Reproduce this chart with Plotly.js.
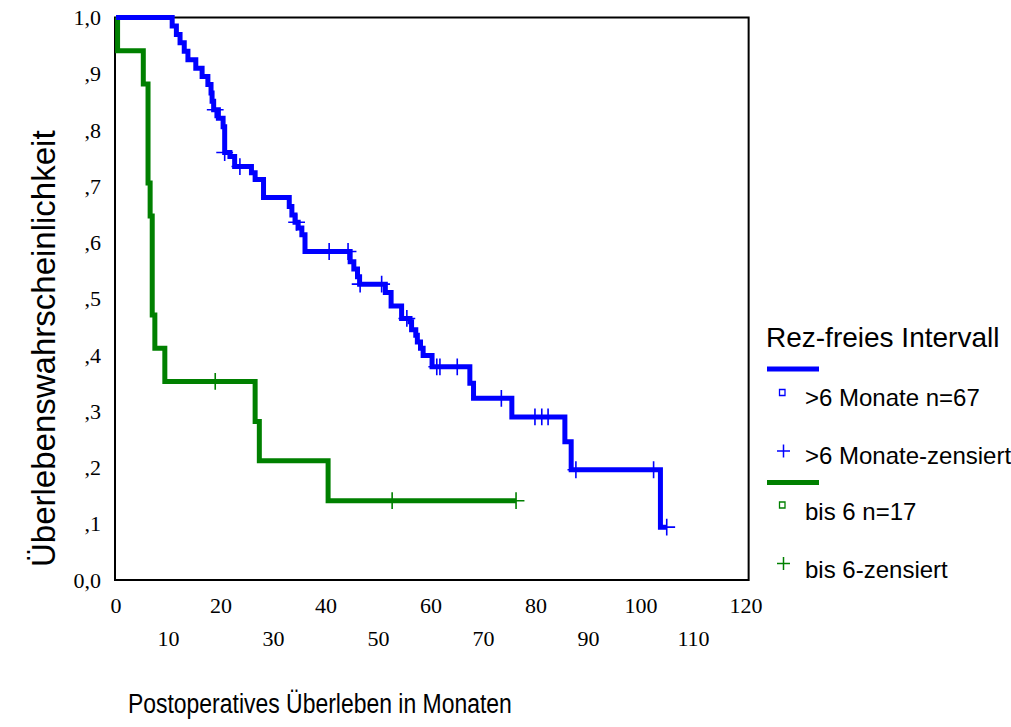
<!DOCTYPE html>
<html>
<head>
<meta charset="utf-8">
<script src="https://cdn.plot.ly/plotly-3.0.1.min.js"></script>
<style>
  html, body { margin: 0; padding: 0; background: #ffffff; }
  #chart { width: 1011px; height: 727px; }
</style>
</head>
<body>
<div id="chart"></div>
<script>
// Kaplan-Meier estimate: event times (months) and survival after each event
const blueEventTimes = [10.7, 11.5, 12.2, 13.0, 13.7, 15.2, 16.4, 17.5, 18.1, 18.3,
  18.6, 19.5, 20.4, 20.7, 21.7, 22.6, 25.8, 26.5, 28.1, 33.0,
  33.5, 34.1, 34.7, 35.4, 36.0, 44.6, 45.3, 46.0, 46.4, 51.3,
  52.4, 54.4, 56.0, 56.3, 57.1, 57.4, 58.0, 58.5, 60.2, 67.4,
  68.1, 75.4, 85.5, 86.7, 103.7];
const blueEventSurv = [0.985, 0.970, 0.955, 0.940, 0.925, 0.910, 0.895, 0.881, 0.866, 0.851,
  0.836, 0.821, 0.806, 0.760, 0.753, 0.735, 0.724, 0.712, 0.680, 0.664,
  0.649, 0.636, 0.626, 0.614, 0.584, 0.566, 0.553, 0.539, 0.526, 0.511,
  0.487, 0.465, 0.459, 0.445, 0.435, 0.423, 0.412, 0.399, 0.379, 0.350,
  0.323, 0.290, 0.246, 0.196, 0.094];
const blueCensorTimes = [18.9, 20.7, 23.6, 34.4, 40.6, 44.2, 46.5, 50.6, 55.4, 61.1,
  61.7, 65.0, 73.4, 79.8, 81.1, 82.3, 87.6, 102.4, 104.9];
const blueCensorSurv = [0.836, 0.760, 0.735, 0.636, 0.584, 0.584, 0.526, 0.526, 0.465, 0.379,
  0.379, 0.379, 0.323, 0.290, 0.290, 0.290, 0.196, 0.196, 0.094];

const greenEventTimes = [0.3, 5.2, 6.1, 6.5, 6.9, 7.4, 9.3, 26.5, 27.3, 40.4];
const greenEventSurv = [0.941, 0.882, 0.706, 0.647, 0.471, 0.412, 0.353, 0.282, 0.212, 0.141];
const greenCensorTimes = [18.9, 52.6, 76.2];
const greenCensorSurv = [0.353, 0.141, 0.141];

// Axis ticks and labels
const yTickVals = [0, 0.1, 0.2, 0.3, 0.4, 0.5, 0.6, 0.7, 0.8, 0.9, 1.0];
const yTickText = ['0,0', ',1', ',2', ',3', ',4', ',5', ',6', ',7', ',8', ',9', '1,0'];
const xTicksUpper = [0, 20, 40, 60, 80, 100, 120];
const xTicksLower = [10, 30, 50, 70, 90, 110];

// Text
const legendTitle = 'Rez-freies Intervall';
const legendLabels = ['>6 Monate n=67', '>6 Monate-zensiert', 'bis 6 n=17', 'bis 6-zensiert'];
const xTitle = 'Postoperatives Überleben in Monaten';
const yTitle = 'Überlebenswahrscheinlichkeit';

// ---- geometry of the plotting region (pixels) ----
const plotLeft = 108, plotRight = 755, plotTop = 8, plotBottom = 590;
const xZeroPx = 116, pxPerMonth = 5.25;
const yOnePx = 17.5, yZeroPx = 580;
const pxPerUnit = yZeroPx - yOnePx;
const xRange = [(plotLeft - xZeroPx) / pxPerMonth, (plotRight - xZeroPx) / pxPerMonth];
const yRange = [(yZeroPx - plotBottom) / pxPerUnit, (yZeroPx - plotTop) / pxPerUnit];
const px = p => (p - plotLeft) / (plotRight - plotLeft);
const py = p => (plotBottom - p) / (plotBottom - plotTop);
const xTitleWidth = 384;   // condensed width of the x-axis caption

const BLUE = 'rgb(0,0,255)';
const GREEN = 'rgb(0,128,0)';
const SANS = 'Liberation Sans, Arial, sans-serif';
const SERIF = 'Liberation Serif, Times New Roman, serif';

function stepCurve(times, surv, endTime) {
  const x = [0], y = [1];
  times.forEach((t, i) => { x.push(t); y.push(surv[i]); });
  x.push(endTime); y.push(surv[surv.length - 1]);
  return { x, y };
}

const greenStep = stepCurve(greenEventTimes, greenEventSurv, greenCensorTimes[greenCensorTimes.length - 1]);
const blueStep = stepCurve(blueEventTimes, blueEventSurv, blueCensorTimes[blueCensorTimes.length - 1]);

const censorMarker = color => ({ symbol: 'cross-thin-open', size: 12, color: color, line: { color: color, width: 1.6 } });

const traces = [
  { x: greenStep.x, y: greenStep.y, type: 'scatter', mode: 'lines', line: { shape: 'hv', color: GREEN, width: 5 }, hoverinfo: 'skip', showlegend: false },
  { x: greenCensorTimes, y: greenCensorSurv, type: 'scatter', mode: 'markers', marker: censorMarker(GREEN), hoverinfo: 'skip', showlegend: false },
  { x: blueStep.x, y: blueStep.y, type: 'scatter', mode: 'lines', line: { shape: 'hv', color: BLUE, width: 5 }, hoverinfo: 'skip', showlegend: false },
  { x: blueCensorTimes, y: blueCensorSurv, type: 'scatter', mode: 'markers', marker: censorMarker(BLUE), hoverinfo: 'skip', showlegend: false },
  // second row of x tick labels lives on an overlaying axis
  { x: [null], y: [null], xaxis: 'x2', type: 'scatter', mode: 'markers', hoverinfo: 'skip', showlegend: false }
];

// ---- legend drawn in paper coordinates ----
const legendRows = [
  { color: BLUE, lineY: 369, squareY: 392.5, crossY: 451, labelY: [397.5, 455.5] },
  { color: GREEN, lineY: 482.5, squareY: 505, crossY: 563.5, labelY: [511, 569] }
];
const shapes = [
  { type: 'rect', xref: 'x', yref: 'y', x0: -0.19, x1: 120.5, y0: 0, y1: 1.0,
    line: { color: '#000000', width: 2 }, fillcolor: 'rgba(0,0,0,0)', layer: 'below' }
];
const annotations = [];
legendRows.forEach((row, i) => {
  shapes.push({ type: 'line', xref: 'paper', yref: 'paper', x0: px(767), x1: px(819), y0: py(row.lineY), y1: py(row.lineY), line: { color: row.color, width: 5 } });
  shapes.push({ type: 'rect', xref: 'paper', yref: 'paper', x0: px(779.5), x1: px(785), y0: py(row.squareY - 3), y1: py(row.squareY + 3), line: { color: row.color, width: 1.3 }, fillcolor: 'rgba(0,0,0,0)' });
  shapes.push({ type: 'line', xref: 'paper', yref: 'paper', x0: px(777), x1: px(790), y0: py(row.crossY), y1: py(row.crossY), line: { color: row.color, width: 1.5 } });
  shapes.push({ type: 'line', xref: 'paper', yref: 'paper', x0: px(783.5), x1: px(783.5), y0: py(row.crossY - 6.5), y1: py(row.crossY + 6.5), line: { color: row.color, width: 1.5 } });
  row.labelY.forEach((ly, j) => {
    annotations.push({ xref: 'paper', yref: 'paper', x: px(803), y: py(ly), xanchor: 'left', yanchor: 'middle',
      text: legendLabels[i * 2 + j], showarrow: false, font: { family: SANS, size: 24, color: '#000000' } });
  });
});
annotations.push({ xref: 'paper', yref: 'paper', x: px(764), y: py(337), xanchor: 'left', yanchor: 'middle',
  text: legendTitle, showarrow: false, font: { family: SANS, size: 28, color: '#000000' } });
annotations.push({ xref: 'paper', yref: 'paper', x: px(320), y: py(704), xanchor: 'center', yanchor: 'middle',
  text: xTitle, showarrow: false, font: { family: SANS, size: 27, color: '#000000' } });
annotations.push({ xref: 'paper', yref: 'paper', x: px(44), y: py(349), xanchor: 'center', yanchor: 'middle',
  text: yTitle, textangle: -90, showarrow: false, font: { family: SANS, size: 33, color: '#000000' } });

const axisCommon = { showgrid: false, zeroline: false, showline: false, ticks: '', fixedrange: true };

const layout = {
  width: 1011, height: 727,
  margin: { l: plotLeft, r: 1011 - plotRight, t: plotTop, b: 727 - plotBottom, pad: 0 },
  paper_bgcolor: '#ffffff', plot_bgcolor: '#ffffff',
  showlegend: false,
  xaxis: Object.assign({}, axisCommon, { range: xRange, tickmode: 'array', tickvals: xTicksUpper,
    ticktext: xTicksUpper.map(String), ticklabelstandoff: 0, tickfont: { family: SERIF, size: 22, color: '#000000' } }),
  xaxis2: Object.assign({}, axisCommon, { range: xRange, overlaying: 'x', anchor: 'y', side: 'bottom', tickmode: 'array',
    tickvals: xTicksLower, ticktext: xTicksLower.map(String), ticklabelstandoff: 33, tickfont: { family: SERIF, size: 22, color: '#000000' } }),
  yaxis: Object.assign({}, axisCommon, { range: yRange, tickmode: 'array', tickvals: yTickVals, ticktext: yTickText,
    ticklabelstandoff: 6, tickfont: { family: SERIF, size: 22, color: '#000000' } }),
  shapes: shapes,
  annotations: annotations
};

Plotly.newPlot('chart', traces, layout, { staticPlot: true, displayModeBar: false }).then(gd => {
  // squeeze the x-axis caption horizontally to the condensed width
  gd.querySelectorAll('text.annotation-text').forEach(t => {
    if (t.textContent === xTitle) {
      const w = t.getBBox().width;
      if (w > 0) {
        t.style.transformBox = 'fill-box';
        t.style.transformOrigin = 'center';
        t.style.transform = 'scaleX(' + (xTitleWidth / w).toFixed(4) + ')';
      }
    }
  });
});
</script>
</body>
</html>
